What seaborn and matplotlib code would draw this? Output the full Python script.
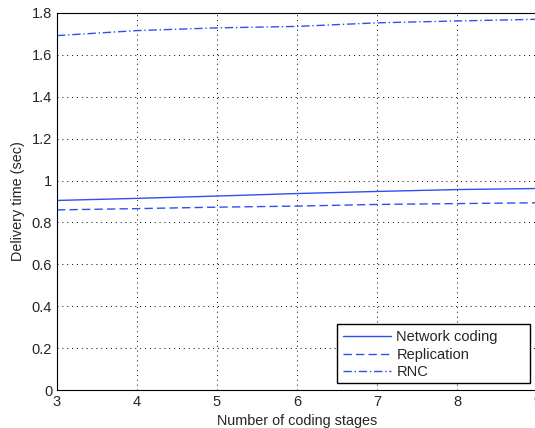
import numpy as np
import pandas as pd
import matplotlib
matplotlib.use("Agg")
import matplotlib.pyplot as plt
import seaborn as sns
from matplotlib.patches import Rectangle

# values
stages = [3, 4, 5, 6, 7, 8, 9]
network_coding = [0.905, 0.915, 0.926, 0.938, 0.948, 0.957, 0.962]
replication = [0.860, 0.866, 0.873, 0.878, 0.886, 0.890, 0.894]
rnc = [1.692, 1.716, 1.729, 1.736, 1.753, 1.762, 1.770]
series_names = ["Network coding", "Replication", "RNC"]

sns.set_style("white")
plt.rcParams["font.family"] = ["Liberation Sans", "DejaVu Sans"]

df = pd.DataFrame({
    "stages": stages * 3,
    "time": network_coding + replication + rnc,
    "method": [series_names[0]] * 7 + [series_names[1]] * 7 + [series_names[2]] * 7,
})

blue = "#2f4ff2"
fig = plt.figure(figsize=(5.35, 4.28), dpi=100)
ax = fig.add_axes([57 / 535, 38 / 428, 480 / 535, 377 / 428])

sns.lineplot(data=df, x="stages", y="time", hue="method", style="method",
             palette=[blue] * 3, dashes=[(None, None), (6, 3), (6, 2, 1, 2)],
             linewidth=1.0, ax=ax, legend=False)

# matlab style legend box (wide right padding), drawn as a patch
box = Rectangle((337 / 535, 45 / 428), 193 / 535, 59 / 428, transform=fig.transFigure,
                facecolor="white", edgecolor="black", linewidth=1.0, zorder=4)
fig.patches.append(box)

handles = [plt.Line2D([], [], color=blue, lw=1.0, ls="-"),
           plt.Line2D([], [], color=blue, lw=1.0, dashes=(6, 3)),
           plt.Line2D([], [], color=blue, lw=1.0, dashes=(6, 2, 1, 2))]
leg = fig.legend(handles, series_names, loc="upper left",
                 bbox_to_anchor=(337 / 535, 1 - 324 / 428),
                 fontsize=10.5, frameon=False, borderaxespad=0,
                 handlelength=3.3, handletextpad=0.35, labelspacing=0.25,
                 borderpad=0.42)
leg.set_zorder(5)

ax.set_xlim(3, 9)
ax.set_ylim(0, 1.8)
ax.set_xticks(range(3, 10))
ax.set_yticks([0, 0.2, 0.4, 0.6, 0.8, 1, 1.2, 1.4, 1.6, 1.8])
ax.set_yticklabels(["0", "0.2", "0.4", "0.6", "0.8", "1", "1.2", "1.4", "1.6", "1.8"])
ax.grid(True, color="black", linestyle=(0, (1, 4)), linewidth=0.7)
ax.tick_params(direction="in", labelsize=10.5, length=4, color="black")
for sp in ax.spines.values():
    sp.set_color("black")
    sp.set_linewidth(0.8)
ax.set_xlabel("Number of coding stages", fontsize=10.4, labelpad=4)
ax.set_ylabel("Delivery time (sec)", fontsize=10.4, labelpad=5)

fig.savefig("out.png", dpi=100)
